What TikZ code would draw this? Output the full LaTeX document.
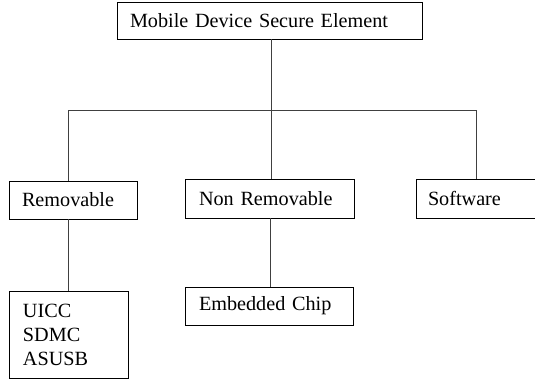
\documentclass[tikz,border=0pt]{standalone}
\usepackage{fontspec}
\setmainfont{Liberation Serif}
\begin{document}
\begin{tikzpicture}[x=1pt,y=-1pt,
  box/.style={draw=black, line width=0.9pt, rectangle, inner sep=0pt,
    font=\fontsize{20.2}{24}\selectfont},
  link/.style={draw=black!75, line width=0.7pt}]
\useasboundingbox (0,0) rectangle (535,380);
\clip (0,0) rectangle (535,380);

% boxes (minimum size fixes the frame, text sits at the left)
\node[box, minimum width=305pt, minimum height=37pt, text width=279pt, align=left]
  (root) at (269.5,20.5) {Mobile Device Secure Element};
\node[box, minimum width=128pt, minimum height=38pt, text width=102pt, align=left]
  (rem) at (73,200) {Removable};
\node[box, minimum width=169pt, minimum height=39pt, text width=141pt, align=left]
  (nonrem) at (269.5,198.5) {Non Removable};
\node[box, minimum width=130pt, minimum height=39pt, text width=106pt, align=left]
  (soft) at (481,198.5) {Software};
\node[box, minimum width=119pt, minimum height=87pt, text width=91pt, align=left]
  (cards) at (68.5,334.5) {UICC\\SDMC\\ASUSB};
\node[box, minimum width=168pt, minimum height=38pt, text width=140pt, align=left]
  (chip) at (269,306) {Embedded Chip};

% junctions of the tree
\coordinate (hub) at (271,110);
\coordinate (jl) at (68,110);
\coordinate (jr) at (476.5,110);

\draw[link] (root.south -| hub) -- (hub);
\draw[link] (jl) -- (jr);
\draw[link] (jl) -- (jl |- rem.north);
\draw[link] (hub) -- (hub |- nonrem.north);
\draw[link] (jr) -- (jr |- soft.north);
\draw[link] (rem.south -| jl) -- (jl |- cards.north);
\draw[link] (nonrem.south -| 270,0) -- (270,0 |- chip.north);
\end{tikzpicture}
\end{document}
